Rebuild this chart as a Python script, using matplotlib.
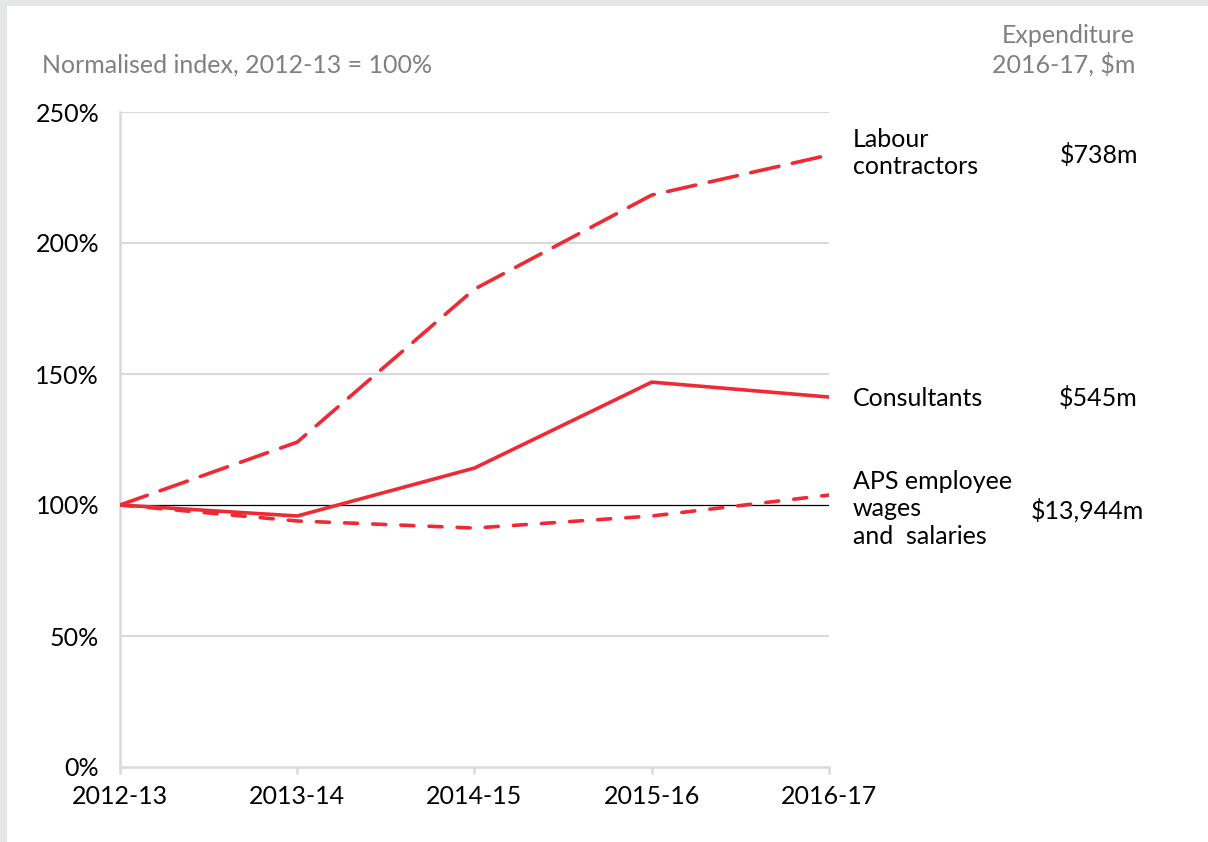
import matplotlib.pyplot as plt
from matplotlib.patches import Rectangle
from matplotlib.ticker import FuncFormatter

plt.rcParams['font.family'] = ['Lato', 'DejaVu Sans']

years = ['2012-13', '2013-14', '2014-15', '2015-16', '2016-17']
labour = [100, 124.0, 182.4, 218.3, 233.6]
consultants = [100, 95.8, 114.1, 146.9, 141.2]
aps = [100, 93.9, 91.2, 95.8, 103.8]

series_names = ['Labour\ncontractors', 'Consultants', 'APS employee\nwages\nand  salaries']
spend_labels = ['$738m', '$545m', '$13,944m']

RED = '#ee2a35'
GREY_TXT = '#808080'
GRID = '#d9d9d9'
FS = 18

fig = plt.figure(figsize=(12.08, 8.42), dpi=100)
fig.patch.set_facecolor('#e6e7e8')
bg = Rectangle((7 / 1208, 0), 1, 1 - 6 / 842, transform=fig.transFigure,
               facecolor='white', edgecolor='none', zorder=-10)
fig.patches.append(bg)

ax = fig.add_axes([120 / 1208, 1 - 767 / 842, (829 - 120) / 1208, (767 - 112) / 842])
ax.set_facecolor('none')
x = list(range(len(years)))

ax.plot(x, labour, color=RED, lw=2.6, dashes=(8, 3.8), dash_capstyle='round', zorder=3)
ax.plot(x, consultants, color=RED, lw=2.6, solid_capstyle='round', zorder=3)
ax.plot(x, aps, color=RED, lw=2.6, dashes=(3.6, 4.2), dash_capstyle='round', zorder=3)

ax.set_xlim(0, 4)
ax.set_ylim(0, 250)
ax.set_yticks([0, 50, 100, 150, 200, 250])
ax.yaxis.set_major_formatter(FuncFormatter(lambda v, p: f'{v:.0f}%'))
for v in [50, 150, 200, 250]:
    ax.axhline(v, color=GRID, lw=1.5, zorder=1)
ax.axhline(100, color='black', lw=0.9, zorder=2)

ax.set_xticks(x)
ax.set_xticklabels(years)
for s in ['top', 'right']:
    ax.spines[s].set_visible(False)
for s in ['left', 'bottom']:
    ax.spines[s].set_color(GRID)
    ax.spines[s].set_linewidth(1.8)
ax.tick_params(axis='x', length=5, width=1.8, color=GRID, labelsize=FS, pad=8)
ax.tick_params(axis='y', length=0, labelsize=FS, pad=15)

fig.text(42 / 1208, 1 - 65 / 842, 'Normalised index, 2012-13 = 100%', color=GREY_TXT,
         fontsize=FS, va='center', ha='left')
fig.text(1135 / 1208, 1 - 50 / 842, 'Expenditure\n2016-17, $m', color=GREY_TXT,
         fontsize=FS, va='center', ha='right', linespacing=1.25, multialignment='right')

label_y = [153, 398, 509]
spend_x = [1138, 1138, 1144]
spend_y = [155, 398, 510]
for name, sp, ly, sx, sy in zip(series_names, spend_labels, label_y, spend_x, spend_y):
    fig.text(853 / 1208, 1 - ly / 842, name, fontsize=FS, va='center', ha='left', linespacing=1.22)
    fig.text(sx / 1208, 1 - sy / 842, sp, fontsize=FS, va='center', ha='right')

fig.savefig('out.png', dpi=100)
